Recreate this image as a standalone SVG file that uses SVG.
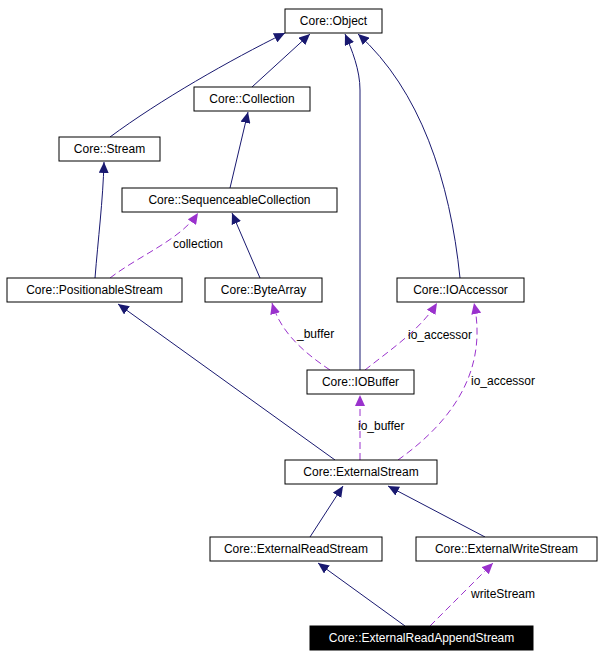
<svg xmlns="http://www.w3.org/2000/svg" width="604" height="660" viewBox="0 0 604 660">
<style>
.n rect{fill:#fff;stroke:#000;stroke-width:1}
text{font-family:"Liberation Sans",Arial,sans-serif;font-size:12px}
.n text{text-anchor:middle}
.i{fill:none;stroke:#191970;stroke-width:1}
.u{fill:none;stroke:#9a32cd;stroke-width:1;stroke-dasharray:7,4}
</style>
<defs>
<marker id="ai" markerWidth="12" markerHeight="10" refX="11" refY="5" orient="auto" markerUnits="userSpaceOnUse"><path d="M0,0L11,5L0,10z" fill="#191970"/></marker>
<marker id="au" markerWidth="12" markerHeight="10" refX="11" refY="5" orient="auto" markerUnits="userSpaceOnUse"><path d="M0,0L11,5L0,10z" fill="#9a32cd"/></marker>
</defs>
<rect width="604" height="660" fill="#fff"/>
<g id="edges">
<path class="i" marker-end="url(#ai)" d="M110,137C160,100 230,60 285,33"/>
<path class="i" marker-end="url(#ai)" d="M252,87L310,34"/>
<path class="i" marker-end="url(#ai)" d="M360,370L360,90C360,70 352,50 345,34"/>
<path class="i" marker-end="url(#ai)" d="M460,278C450,180 420,90 358,34"/>
<path class="i" marker-end="url(#ai)" d="M230,188L248,112"/>
<path class="i" marker-end="url(#ai)" d="M95,278C98,240 103,200 104,162"/>
<path class="i" marker-end="url(#ai)" d="M260,278L232,213"/>
<path class="u" marker-end="url(#au)" d="M110,278C140,255 180,240 198,213"/>
<text x="173" y="248">collection</text>
<path class="u" marker-end="url(#au)" d="M330,370C300,350 280,330 272,303"/>
<text x="297" y="338">_buffer</text>
<path class="u" marker-end="url(#au)" d="M365,370C390,350 420,330 437,303"/>
<text x="408" y="339">io_accessor</text>
<path class="i" marker-end="url(#ai)" d="M335,460L118,304"/>
<path class="u" marker-end="url(#au)" d="M360,460L360,395"/>
<text x="358" y="430">io_buffer</text>
<path class="u" marker-end="url(#au)" d="M398,460C440,430 490,380 474,303"/>
<text x="471" y="385">io_accessor</text>
<path class="i" marker-end="url(#ai)" d="M310,537L343,486"/>
<path class="i" marker-end="url(#ai)" d="M485,537L388,486"/>
<path class="i" marker-end="url(#ai)" d="M405,626L318,563"/>
<path class="u" marker-end="url(#au)" d="M430,626L493,563"/>
<text x="471" y="598">writeStream</text>
</g>
<g id="Object" class="n"><rect x="285" y="9" width="97" height="24"/><text x="333.5" y="25">Core::Object</text></g>
<g id="Collection" class="n"><rect x="194" y="87" width="116" height="24"/><text x="252" y="103">Core::Collection</text></g>
<g id="Stream" class="n"><rect x="59" y="137" width="101" height="24"/><text x="109.5" y="153">Core::Stream</text></g>
<g id="SequenceableCollection" class="n"><rect x="122" y="188" width="215" height="24"/><text x="229.5" y="204">Core::SequenceableCollection</text></g>
<g id="PositionableStream" class="n"><rect x="7" y="278" width="175" height="24"/><text x="94.5" y="294">Core::PositionableStream</text></g>
<g id="ByteArray" class="n"><rect x="205" y="278" width="117" height="24"/><text x="263.5" y="294">Core::ByteArray</text></g>
<g id="IOAccessor" class="n"><rect x="397" y="278" width="127" height="24"/><text x="460.5" y="294">Core::IOAccessor</text></g>
<g id="IOBuffer" class="n"><rect x="307" y="370" width="107" height="24"/><text x="360.5" y="386">Core::IOBuffer</text></g>
<g id="ExternalStream" class="n"><rect x="285" y="460" width="152" height="24"/><text x="361" y="476">Core::ExternalStream</text></g>
<g id="ExternalReadStream" class="n"><rect x="210" y="537" width="172" height="24"/><text x="296" y="553">Core::ExternalReadStream</text></g>
<g id="ExternalWriteStream" class="n"><rect x="416" y="537" width="181" height="24"/><text x="506.5" y="553">Core::ExternalWriteStream</text></g>
<g id="ExternalReadAppendStream" class="n"><rect x="310" y="626" width="223" height="24" style="fill:#000"/><text x="421.5" y="642" fill="#fff">Core::ExternalReadAppendStream</text></g>
</svg>
